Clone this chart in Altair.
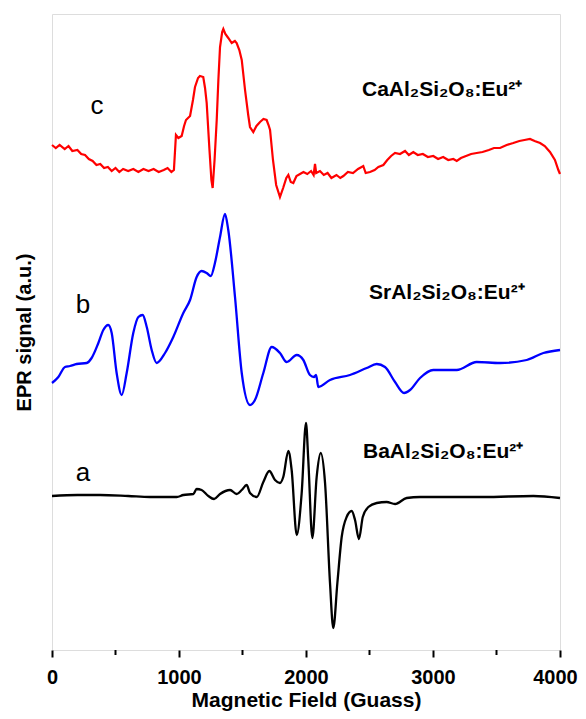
import altair as alt
import pandas as pd

# ---- data (field in Gauss, signal in arbitrary units, curves already offset) ----
ca_field = [0, 30, 60, 100, 130, 160, 200, 230, 260, 290, 320, 350, 380, 410, 440, 470, 500, 530, 560, 600,
            640, 680, 720, 760, 800, 840, 880, 910, 940, 960, 976, 995, 1021, 1040, 1055, 1087, 1110, 1126,
            1150, 1165, 1191, 1205, 1218, 1240, 1255, 1265, 1280, 1297, 1310, 1323, 1340, 1349, 1365, 1388,
            1415, 1440, 1454, 1475, 1494, 1520, 1545, 1559, 1585, 1610, 1638, 1665, 1690, 1705, 1717, 1740,
            1765, 1795, 1820, 1845, 1861, 1880, 1900, 1925, 1953, 1980, 2010, 2040, 2060, 2071, 2080, 2110,
            2140, 2170, 2200, 2240, 2270, 2294, 2330, 2370, 2410, 2451, 2470, 2504, 2540, 2570, 2609, 2640,
            2670, 2701, 2740, 2780, 2810, 2845, 2880, 2920, 2960, 3002, 3040, 3080, 3120, 3160, 3187, 3220,
            3260, 3300, 3344, 3390, 3440, 3480, 3528, 3580, 3632, 3680, 3720, 3764, 3800, 3843, 3880, 3921,
            3960, 3987, 4000]
ca_signal = [505, 502, 505, 501, 504, 499, 500, 496, 495, 491, 489, 485, 486, 482, 483, 479, 482, 478, 481, 479,
             481, 478, 481, 479, 481, 478, 480, 482, 478, 480, 515, 512, 514, 524, 530, 534, 550, 563,
             572, 574, 573, 562, 547, 500, 470, 462, 490, 530, 570, 603, 618, 621, 616, 612,
             607, 609, 607, 600, 590, 560, 535, 523, 518, 524, 528, 531, 530, 525, 520, 490,
             465, 453, 462, 472, 475, 468, 467, 474, 476, 478, 476, 479, 475, 486, 477, 479,
             475, 477, 472, 475, 472, 474, 478, 477, 481, 484, 477, 478, 480, 483, 485, 490,
             494, 497, 496, 499, 495, 498, 495, 496, 493, 494, 491, 493, 490, 491, 489, 492,
             494, 496, 497, 498, 500, 502, 502, 505, 507, 509, 510, 511, 509, 507, 504, 498,
             490, 480, 476]

sr_field = [0, 50, 102, 142, 194, 273, 312, 365, 404, 443, 470, 509, 549, 588, 640, 680, 714, 746, 785, 824,
            890, 955, 1034, 1087, 1139, 1178, 1218, 1250, 1283, 1323, 1362, 1388, 1441, 1494, 1559, 1598,
            1664, 1730, 1795, 1848, 1927, 1979, 2031, 2063, 2079, 2097, 2189, 2346, 2478, 2557, 2622, 2701,
            2772, 2819, 2898, 3002, 3187, 3344, 3528, 3738, 3869, 4000]
sr_signal = [267, 273, 283, 284, 286, 287, 292, 307, 320, 325, 317, 277, 255, 277, 317, 333, 335, 323, 300, 287,
             297, 313, 337, 350, 373, 379, 377, 374, 387, 413, 436, 420, 353, 277, 245, 250,
             277, 303, 297, 288, 295, 290, 275, 273, 275, 263, 270, 275, 282, 286, 283, 268,
             257, 260, 272, 280, 280, 288, 287, 290, 297, 300]

ba_field = [0, 200, 378, 600, 772, 982, 1034, 1113, 1139, 1178, 1231, 1276, 1323, 1402, 1454, 1494, 1533, 1559,
            1612, 1664, 1711, 1756, 1795, 1821, 1861, 1887, 1927, 1966, 2000, 2018, 2050, 2084, 2116, 2150,
            2189, 2215, 2247, 2281, 2320, 2360, 2386, 2417, 2447, 2491, 2557, 2635, 2701, 2793, 2898, 3134,
            3396, 3790, 4000]
ba_signal = [154, 155, 155, 154, 153, 153, 155, 156, 161, 160, 154, 151, 156, 160, 156, 160, 165, 157,
             153, 168, 179, 170, 167, 173, 199, 180, 115, 157, 227, 190, 112, 173, 197, 167,
             67, 22, 67, 113, 133, 139, 130, 111, 133, 143, 147, 148, 146, 152, 153, 153,
             153, 154, 152]

samples = ["c", "b", "a"]
colors = ["#ff0000", "#0000ff", "#000000"]

letter_text = ["c", "b", "a"]
letter_field = [354, 244, 244]
letter_signal = [544, 345, 177]

formula_text = ["CaAl\u2082Si\u2082O\u2088:Eu\u00b2\u207a", "SrAl\u2082Si\u2082O\u2088:Eu\u00b2\u207a",
                "BaAl\u2082Si\u2082O\u2088:Eu\u00b2\u207a"]
formula_field = [2441, 2496, 2449]
formula_signal = [560, 357, 198]

major_ticks = [0, 1000, 2000, 3000, 4000]
minor_ticks = [500, 1500, 2500, 3500]

# ---- tables ----
def curve(name, fx, fy):
    return pd.DataFrame({"sample": name, "field": fx, "signal": fy})

df_ca = curve("c", ca_field, ca_signal)
df_smooth = pd.concat([curve("b", sr_field, sr_signal), curve("a", ba_field, ba_signal)], ignore_index=True)
letters = pd.DataFrame({"t": letter_text, "field": letter_field, "signal": letter_signal})
formulas = pd.DataFrame({"t": formula_text, "field": formula_field, "signal": formula_signal})
minors = pd.DataFrame({"field": minor_ticks})

FONT = "Liberation Sans"
x_scale = alt.Scale(domain=[0, 4000], nice=False, zero=False)
y_scale = alt.Scale(domain=[0, 636], nice=False, zero=False)
color_scale = alt.Scale(domain=samples, range=colors)

x_axis = alt.Axis(
    values=major_ticks, format="d", title="Magnetic Field (Guass)",
    tickSize=7, tickWidth=2, tickColor="black", domain=False, grid=False, labelFlush=False,
    labelOffset={"condition": {"test": "datum.value === 4000", "value": -5}, "value": 0},
    labelFont=FONT, labelFontSize=20, labelFontWeight="bold", labelColor="black", labelPadding=10,
    titleFont=FONT, titleFontSize=21, titleFontWeight="bold", titleColor="black",
    titleY=56, titleBaseline="alphabetic",
)
y_axis = alt.Axis(
    title="EPR signal (a.u.)", labels=False, ticks=False, domain=False, grid=False,
    titleFont=FONT, titleFontSize=20, titleFontWeight="bold", titleColor="black", titlePadding=18,
)

ca_line = alt.Chart(df_ca).mark_line(strokeWidth=2.2, interpolate="linear").encode(
    x=alt.X("field:Q", scale=x_scale, axis=x_axis),
    y=alt.Y("signal:Q", scale=y_scale, axis=y_axis),
    color=alt.Color("sample:N", scale=color_scale, legend=None),
)

smooth_lines = alt.Chart(df_smooth).mark_line(strokeWidth=2.3, interpolate="monotone").encode(
    x=alt.X("field:Q", scale=x_scale),
    y=alt.Y("signal:Q", scale=y_scale),
    color=alt.Color("sample:N", scale=color_scale, legend=None),
)

minor_marks = alt.Chart(minors).mark_rule(color="black", strokeWidth=2).encode(
    x=alt.X("field:Q", scale=x_scale), y=alt.value(636), y2=alt.value(641)
)

letter_marks = alt.Chart(letters).mark_text(
    font=FONT, fontSize=26, align="center", baseline="middle", color="black"
).encode(x=alt.X("field:Q", scale=x_scale), y=alt.Y("signal:Q", scale=y_scale), text="t:N")

formula_marks = alt.Chart(formulas).mark_text(
    font=FONT, fontSize=21, fontWeight="bold", align="left", baseline="middle", color="black"
).encode(x=alt.X("field:Q", scale=x_scale), y=alt.Y("signal:Q", scale=y_scale), text="t:N")

chart = alt.layer(ca_line, smooth_lines, minor_marks, letter_marks, formula_marks).properties(
    width=508, height=636,
    padding={"left": 44, "top": 6, "right": 18, "bottom": 61},
    autosize=alt.AutoSizeParams(type="none"),
).configure_view(stroke="black", strokeWidth=2).configure(background="white")

chart.save("out.html", embed_options={"renderer": "svg", "actions": False})
